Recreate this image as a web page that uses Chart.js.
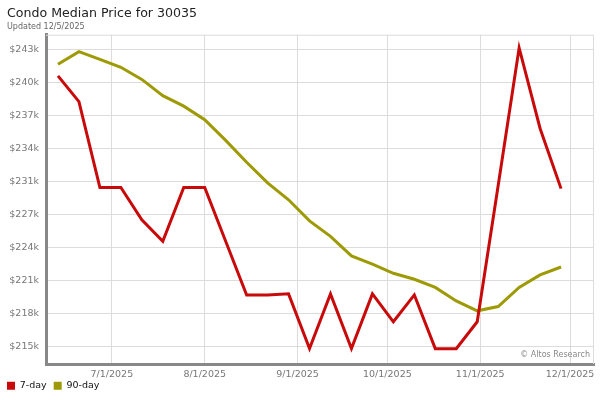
<!DOCTYPE html>
<html>
<head>
<meta charset="utf-8">
<script src="https://cdn.jsdelivr.net/npm/chart.js@4.4.1/dist/chart.umd.min.js"></script>
<style>
    html, body { margin: 0; padding: 0; background: #fff; }
</style>
</head>
<body>
<canvas id="chart" width="600" height="400"></canvas>
<script>
    // weekly sample dates (Fridays)
    var weekDates = ['6/13/2025', '6/20/2025', '6/27/2025', '7/4/2025', '7/11/2025', '7/18/2025', '7/25/2025',
        '8/1/2025', '8/8/2025', '8/15/2025', '8/22/2025', '8/29/2025', '9/5/2025', '9/12/2025', '9/19/2025',
        '9/26/2025', '10/3/2025', '10/10/2025', '10/17/2025', '10/24/2025', '10/31/2025', '11/7/2025',
        '11/14/2025', '11/21/2025', '11/28/2025'];

    var sevenDay = [240400, 238000, 230000, 230000, 227000, 225000, 230000, 230000, 225000, 220000, 220000, 220100,
        215000, 220100, 215000, 220100, 217500, 220000, 215000, 215000, 217500, 230200, 243000, 235500, 229900];

    var ninetyDay = [241480, 242650, 241940, 241200, 240070, 238560, 237580, 236320, 234390, 232360, 230430, 228860,
        226900, 225450, 223640, 222880, 222020, 221460, 220700, 219440, 218520, 218920, 220700, 221860, 222600];

    var xTickLabels = ['7/1/2025', '8/1/2025', '9/1/2025', '10/1/2025', '11/1/2025', '12/1/2025'];
    var yTicks = [215200, 218270, 221340, 224410, 227480, 230550, 233620, 236690, 239760, 242830];

    var xStart = '6/9/2025';
    var xEnd = '12/9/2025';

    function dayNum(str) {
        var p = str.split('/');
        return Date.UTC(+p[2], +p[0] - 1, +p[1]) / 86400000;
    }

    function toPoints(values) {
        var pts = [];
        for (var i = 0; i < values.length; i++) {
            pts.push({ x: dayNum(weekDates[i]), y: values[i] });
        }
        return pts;
    }

    Chart.defaults.font.family = "'DejaVu Sans', Verdana, sans-serif";

    // light frame on top and right of plot area
    var framePlugin = {
        id: 'frame',
        afterLayout: function (chart) {
            // legend hugs the left edge and sits just under the date labels
            if (chart.legend) {
                chart.legend.left = 0;
                chart.legend.top = chart.chartArea.bottom + 10;
            }
        },
        beforeDatasetsDraw: function (chart) {
            var a = chart.chartArea, ctx = chart.ctx;
            ctx.save();
            ctx.strokeStyle = '#dcdcdc';
            ctx.lineWidth = 1;
            ctx.beginPath();
            ctx.moveTo(a.left, a.top + 0.5);
            ctx.lineTo(a.right - 0.5, a.top + 0.5);
            ctx.lineTo(a.right - 0.5, a.bottom);
            ctx.stroke();
            ctx.restore();
        }
    };

    var watermarkPlugin = {
        id: 'watermark',
        afterDraw: function (chart) {
            var a = chart.chartArea, ctx = chart.ctx;
            ctx.save();
            ctx.font = "8px 'DejaVu Sans', Verdana, sans-serif";
            ctx.fillStyle = '#888';
            ctx.textAlign = 'right';
            ctx.textBaseline = 'alphabetic';
            ctx.fillText('\u00a9 Altos Research', a.right - 4, a.bottom - 7);
            ctx.restore();
        }
    };

    var ctx = document.getElementById('chart').getContext('2d');
    new Chart(ctx, {
        type: 'line',
        data: {
            datasets: [{
                label: '7-day',
                data: toPoints(sevenDay),
                borderColor: '#c80a0a',
                backgroundColor: '#c80a0a',
                borderWidth: 3,
                pointRadius: 0,
                tension: 0
            }, {
                label: '90-day',
                data: toPoints(ninetyDay),
                borderColor: '#9e9a05',
                backgroundColor: '#9e9a05',
                borderWidth: 3,
                pointRadius: 0,
                tension: 0
            }]
        },
        options: {
            responsive: false,
            animation: false,
            layout: { padding: { left: 7, right: 6, top: 6, bottom: 0 } },
            scales: {
                x: {
                    type: 'linear',
                    min: dayNum(xStart),
                    max: dayNum(xEnd),
                    afterBuildTicks: function (scale) {
                        scale.ticks = xTickLabels.map(function (d) { return { value: dayNum(d) }; });
                    },
                    afterFit: function (scale) { scale.height = 16; },
                    ticks: {
                        autoSkip: false,
                        maxRotation: 0,
                        padding: 5,
                        color: '#777',
                        font: { size: 9.5 },
                        callback: function (v, i) { return xTickLabels[i]; }
                    },
                    grid: { color: '#dcdcdc', drawTicks: false },
                    border: { color: '#888', width: 3 }
                },
                y: {
                    type: 'linear',
                    min: 213570,
                    max: 244230,
                    afterBuildTicks: function (scale) {
                        scale.ticks = yTicks.map(function (v) { return { value: v }; });
                    },
                    afterFit: function (scale) { scale.width = 39; },
                    ticks: {
                        padding: 7,
                        color: '#777',
                        font: { size: 9.5 },
                        callback: function (v) { return '$' + Math.round(v / 1000) + 'k'; }
                    },
                    grid: { color: '#dcdcdc', drawTicks: false },
                    border: { color: '#888', width: 3 }
                }
            },
            plugins: {
                title: {
                    display: true,
                    text: 'Condo Median Price for 30035',
                    align: 'start',
                    color: '#222',
                    font: { size: 12.6, weight: 'normal' },
                    padding: { top: 0, bottom: 1 }
                },
                subtitle: {
                    display: true,
                    text: 'Updated 12/5/2025',
                    align: 'start',
                    color: '#666',
                    font: { size: 8, weight: 'normal' },
                    padding: { top: 0, bottom: 3 }
                },
                legend: {
                    position: 'bottom',
                    align: 'start',
                    maxHeight: 20,
                    labels: {
                        boxWidth: 8,
                        boxHeight: 8,
                        padding: 7,
                        color: '#111',
                        font: { size: 9.5 },
                        generateLabels: function (chart) {
                            var items = Chart.defaults.plugins.legend.labels.generateLabels(chart);
                            items.forEach(function (it) { it.lineWidth = 0; });
                            return items;
                        }
                    }
                },
                tooltip: { enabled: false }
            }
        },
        plugins: [framePlugin, watermarkPlugin]
    });
</script>
</body>
</html>
